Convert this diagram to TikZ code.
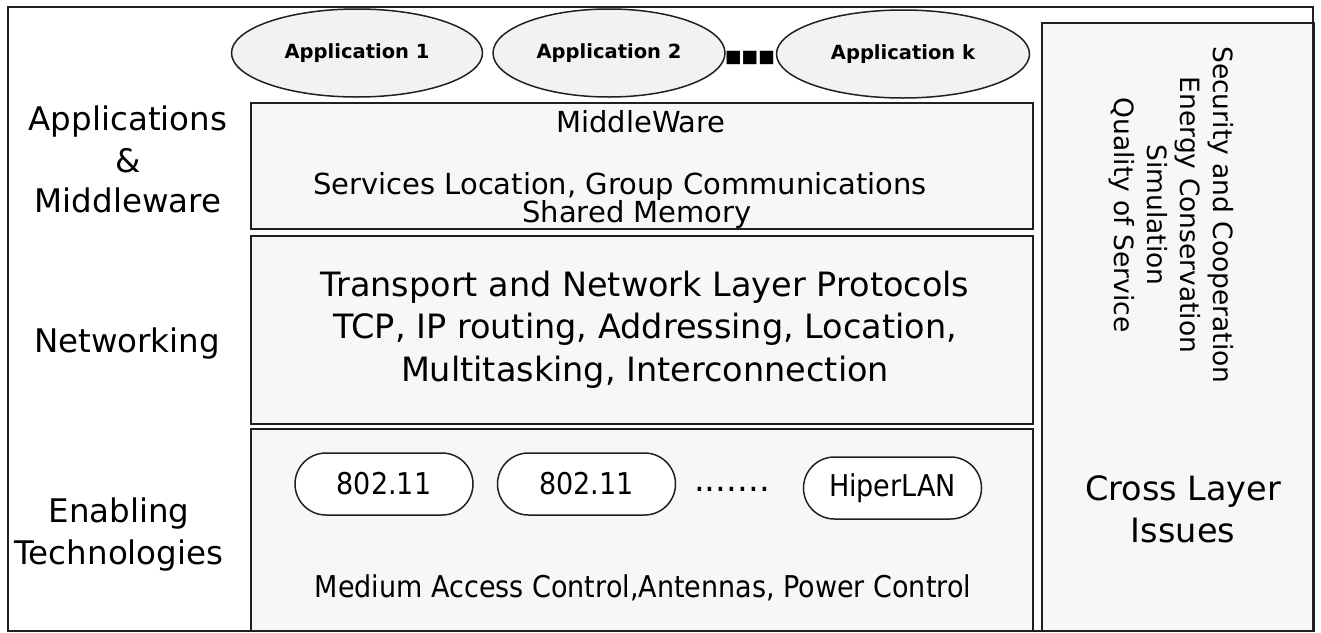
\documentclass[tikz,border=0pt]{standalone}
\usepackage{fontspec}
\setmainfont{DejaVu Sans}
\newfontfamily\narrowfont[FakeStretch=0.9]{DejaVu Sans}
\usetikzlibrary{shapes.geometric}

\definecolor{edge}{HTML}{231F20}
\definecolor{panel}{HTML}{F7F7F7}
\definecolor{bubble}{HTML}{F2F2F2}

\newcommand{\setfs}[1]{\fontsize{#1}{#1}\selectfont}

\begin{document}
\begin{tikzpicture}[x=1pt,y=-1pt,
  layer/.style={draw=edge, line width=1.8pt, fill=panel, inner sep=0pt, anchor=north west},
  app/.style={ellipse, draw=edge, line width=1.5pt, fill=bubble, inner sep=0pt,
    minimum height=88pt, font=\bfseries\setfs{19.5}},
  tech/.style={draw=edge, line width=1.5pt, fill=white, rounded corners=31pt,
    minimum width=178pt, minimum height=62pt, inner sep=0pt, font=\narrowfont\setfs{30}},
  lbl/.style={inner sep=0pt, anchor=base, text=black},
  side/.style={lbl, font=\setfs{32.5}},
  big/.style={lbl, font=\setfs{33.5}},
  mid/.style={lbl, font=\setfs{29}},
  vert/.style={lbl, rotate=-90, font=\setfs{26.5}},
]
\useasboundingbox (0,0) rectangle (1321,632);

% layer panels
\node[layer, minimum width=782pt, minimum height=126pt] (mwbox) at (250,102) {};
\node[layer, minimum width=782pt, minimum height=188pt] (netbox) at (250,235) {};
\node[layer, minimum width=782pt, minimum height=202pt] (techbox) at (250,428) {};
\node[layer, minimum width=272pt, minimum height=608pt] (crossbox) at (1041,22) {};

% applications
\node[app, minimum width=251pt] (app1) at (357,53) {Application 1};
\node[app, minimum width=232pt] (app2) at (609,53) {Application 2};
\node[lbl, font=\setfs{17.5}] (more) at (750,62.5) {■■■};
\node[app, minimum width=253pt] (appk) at (903,54) {Application k};

% left-hand layer names
\node[side] (l1) at (128,130) {Applications};
\node[side] (l2) at (128,172) {\&};
\node[side] (l3) at (128,212) {Middleware};
\node[side] (l4) at (127,352) {Networking};
\node[side] (l5) at (119,522) {Enabling};
\node[side] (l6) at (119,564) {Technologies};

% middleware panel
\node[mid] (m1) at (641,132) {MiddleWare};
\node[mid] (m2) at (620,194) {Services Location, Group Communications};
\node[mid] (m3) at (637,222) {Shared Memory};

% networking panel
\node[big] (n1) at (645,296) {Transport and Network Layer Protocols};
\node[big] (n2) at (645,338) {TCP, IP routing, Addressing, Location,};
\node[big] (n3) at (645,381) {Multitasking, Interconnection};

% enabling technologies panel
\node[tech] (t1) at (384,484) {802.11};
\node[tech] (t2) at (586.5,484) {802.11};
\node[lbl, font=\setfs{34}] (dots) at (732,491) {.......};
\node[tech] (t3) at (892.5,488) {HiperLAN};
\node[lbl, font=\narrowfont\setfs{30}] (t4) at (643,597) {Medium Access Control,Antennas, Power Control};

% cross layer column
\node[vert] (c1) at (1213,215) {Security and Cooperation};
\node[vert] (c2) at (1180,215) {Energy Conservation};
\node[vert] (c3) at (1147,215) {Simulation};
\node[vert] (c4) at (1114,215) {Quality of Service};
\node[big] (c5) at (1183,500) {Cross Layer};
\node[big] (c6) at (1183,542) {Issues};

% outer frame
\draw[edge, line width=2.4pt] (8,7) rectangle (1313,631);
\end{tikzpicture}
\end{document}
